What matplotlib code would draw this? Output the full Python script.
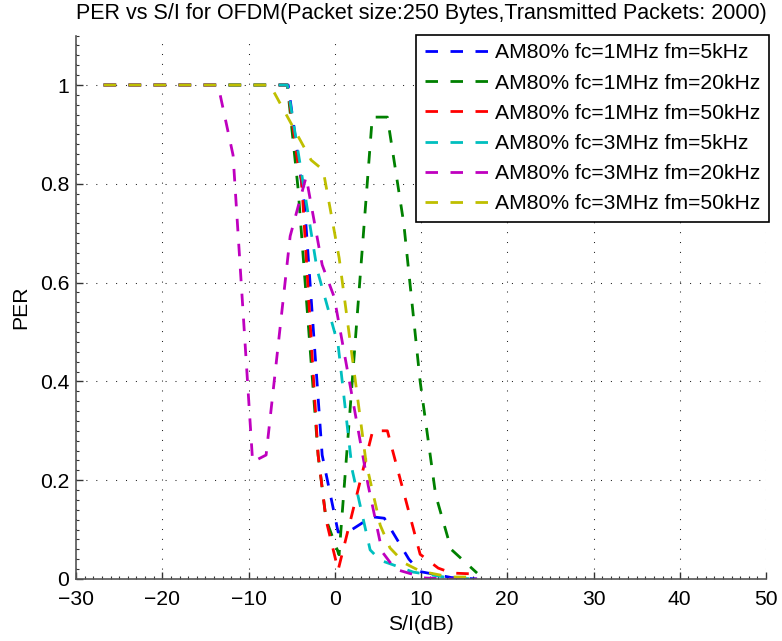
import matplotlib
matplotlib.use("Agg")
import matplotlib.pyplot as plt
from matplotlib.ticker import MultipleLocator

# S/I (dB) and PER, one pair of lists per curve
blue_x = [-26.8, -5.4, -3.5, -1.46, 0.39, 1.9, 4.3, 5.75, 8.6, 9.9, 13.5, 16.5]
blue_y = [1.0, 1.0, 0.757, 0.251, 0.095, 0.099, 0.126, 0.123, 0.04, 0.015, 0.003, 0.0]

green_x = [-26.8, -5.5, -4.25, -1.93, -1.0, 0.5, 4.35, 6.1, 8.0, 9.9, 11.7, 13.5, 16.5]
green_y = [1.0, 1.0, 0.79, 0.251, 0.12, 0.049, 0.935, 0.935, 0.72, 0.40, 0.17, 0.06, 0.012]

red_x = [-26.8, -5.5, -4.25, -3.85, -1.93, -1.0, 0.39, 4.4, 6.1, 9.9, 12.0, 13.6, 16.5]
red_y = [1.0, 1.0, 0.838, 0.808, 0.251, 0.119, 0.018, 0.30, 0.30, 0.05, 0.022, 0.012, 0.01]

cyan_x = [-26.8, -5.5, -2.04, 0.39, 2.02, 4.1, 5.27, 9.1, 13.4, 16.5]
cyan_y = [1.0, 1.0, 0.626, 0.474, 0.221, 0.059, 0.038, 0.014, 0.002, 0.0]

magenta_x = [-26.8, -13.53, -11.79, -9.52, -7.96, -5.17, -3.32, -1.46, -0.07, 3.87, 5.5, 7.0, 10.5, 13.6, 16.5]
magenta_y = [1.0, 1.0, 0.858, 0.237, 0.251, 0.694, 0.814, 0.636, 0.571, 0.19, 0.055, 0.02, 0.002, 0.0, 0.0]

yellow_x = [-26.8, -7.5, -2.74, -1.35, 0.51, 3.64, 5.27, 6.4, 8.1, 9.9, 13.4, 16.5]
yellow_y = [1.0, 1.0, 0.848, 0.828, 0.65, 0.235, 0.109, 0.063, 0.032, 0.016, 0.004, 0.004]

labels = ['AM80% fc=1MHz fm=5kHz', 'AM80% fc=1MHz fm=20kHz', 'AM80% fc=1MHz fm=50kHz',
          'AM80% fc=3MHz fm=5kHz', 'AM80% fc=3MHz fm=20kHz', 'AM80% fc=3MHz fm=50kHz']
colors = ['#0000ff', '#008000', '#ff0000', '#00bfbf', '#bf00bf', '#bfbf00']

xs = [blue_x, green_x, red_x, cyan_x, magenta_x, yellow_x]
ys = [blue_y, green_y, red_y, cyan_y, magenta_y, yellow_y]

plt.rcParams['font.family'] = ['Liberation Sans', 'DejaVu Sans']
plt.rcParams['font.size'] = 15.2

fig = plt.figure(figsize=(7.82, 6.41), dpi=100)
ax = fig.add_axes([76 / 782, 1 - 579 / 641, 690 / 782, 543.4 / 641])

for x, y, c, lab in zip(xs, ys, colors, labels):
    ax.plot(x, y, color=c, lw=2, ls=(0, (4.5, 4.5)), label=lab)

ax.set_xlim(-30, 50)
ax.set_ylim(0, 1.1)
ax.set_xticks(range(-30, 51, 10))
ax.set_yticks([0, 0.2, 0.4, 0.6, 0.8, 1])
ax.set_yticklabels(['0', '0.2', '0.4', '0.6', '0.8', '1'])
ax.xaxis.set_minor_locator(MultipleLocator(1))
ax.yaxis.set_minor_locator(MultipleLocator(0.02))
ax.tick_params(which='both', direction='in', colors='#333333', labelcolor='black')
ax.tick_params(which='major', length=5, width=1)
ax.tick_params(which='minor', length=2.5, width=0.8)
ax.tick_params(axis='x', which='major', pad=8)
ax.tick_params(axis='y', which='major', pad=5)

ax.spines['top'].set_visible(False)
ax.spines['right'].set_visible(False)
for s in ['left', 'bottom']:
    ax.spines[s].set_color('#555555')
    ax.spines[s].set_linewidth(1.2)

ax.grid(True, which='major', color='#222222', lw=0.75, ls=(0, (1, 8.5)))

ax.set_xlabel('S/I(dB)', labelpad=4)
ax.set_ylabel('PER', labelpad=7)
ax.set_title('PER vs S/I for OFDM(Packet size:250 Bytes,Transmitted Packets: 2000)',
             fontsize=15.5, pad=12)

leg = ax.legend(loc='upper right', bbox_to_anchor=(769 / 782, 1 - 35 / 641),
                bbox_transform=fig.transFigure, borderaxespad=0, fancybox=False,
                framealpha=1, edgecolor='black', handlelength=3.0, handletextpad=0.35,
                labelspacing=0.53, borderpad=0.4)
leg.get_frame().set_linewidth(1.2)

fig.savefig('out.png', dpi=100)
